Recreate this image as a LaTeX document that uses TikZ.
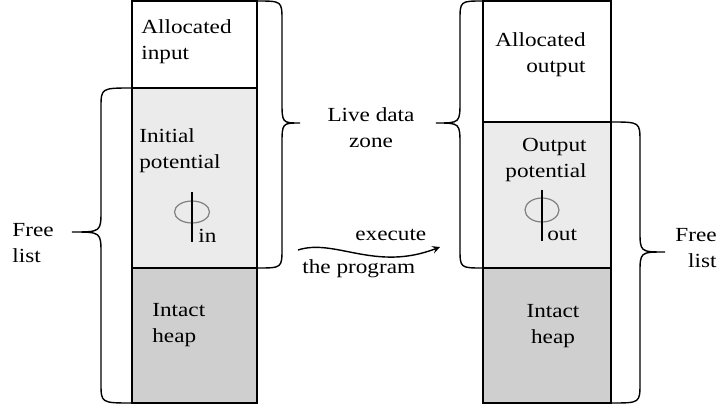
\documentclass[tikz,border=0pt]{standalone}
\usepackage{fontspec}
\setmainfont[FakeStretch=1.16]{Liberation Serif}
\usetikzlibrary{arrows, fit, positioning}
\tikzset{
	cell/.style={draw=black, line width=0.7pt, inner sep=0pt, fill=white},
	potcell/.style={cell, fill=black!8},
	heapcell/.style={cell, fill=black!19},
	label/.style={inner sep=0pt, font=\fontsize{10pt}{13pt}\selectfont},
	brace/.style={line width=0.7pt},
	phiring/.style={draw=black!50, line width=0.6pt},
	arrow/.style={line width=0.7pt,->,>=stealth}
}
% curly brace: open end x, top y, bottom y, spine x, tip x, tip y
\newcommand{\curly}[6]{%
	\draw[brace] (#1,#2) .. controls (#4,#2) .. (#4,{#2+20}) -- (#4,{#6-22})
		.. controls (#4,#6) .. (#5,#6) .. controls (#4,#6) .. (#4,{#6+22})
		-- (#4,{#3-20}) .. controls (#4,#3) .. (#1,#3);}
\begin{document}
\begin{tikzpicture}[x=0.5pt, y=-0.5pt]
		\useasboundingbox (0,0) rectangle (720,408);
		
		% Memory before the run
		\node (inA) [cell, fit={(132,1) (257,88)}] {};
		\node (inP) [potcell, fit={(132,88) (257,268)}] {};
		\node (inH) [heapcell, fit={(132,268) (257,403)}] {};
		
		% Memory after the run
		\node (outA) [cell, fit={(483,1) (611,122)}] {};
		\node (outP) [potcell, fit={(483,122) (611,268)}] {};
		\node (outH) [heapcell, fit={(483,268) (611,403)}] {};
		
		% Texts in the cells (base = last line)
		\node (allocIn) [label, anchor=base west, align=left] at (141,59) {Allocated\\input};
		\node (initPot) [label, anchor=base west, align=left] at (139,168) {Initial\\potential};
		\node (heapIn) [label, anchor=base west, align=left] at (152,342) {Intact\\heap};
		\node (allocOut) [label, anchor=base east, align=right] at (586,72) {Allocated\\output};
		\node (outPot) [label, anchor=base east, align=right] at (587,177) {Output\\potential};
		\node (heapOut) [label, anchor=base, align=center] at (553,343) {Intact\\heap};
		
		% Potential symbols
		\draw[phiring] (192,212) ellipse [x radius=17.5, y radius=11];
		\draw[line width=0.7pt] (192,192) -- (192,242);
		\node (inSub) [label, anchor=base west] at (198,242) {in};
		\draw[phiring] (542,210) ellipse [x radius=17, y radius=12];
		\draw[line width=0.7pt] (542,190) -- (542,241);
		\node (outSub) [label, anchor=base west] at (547,240) {out};
		
		% Braces
		\curly{132}{88}{403}{101}{72}{232}
		\curly{257}{1}{268}{282}{300}{123}
		\curly{483}{1}{268}{460}{436}{123}
		\curly{611}{122}{403}{640}{665}{252}
		
		% Brace texts
		\node (freeL) [label, anchor=base west, align=left] at (12,262) {Free\\list};
		\node (live) [label, anchor=base, align=center] at (371,147) {Live data\\zone};
		\node (freeR) [label, anchor=base east, align=right] at (717,267) {Free\\list};
		
		% Running the program
		\coordinate (runA) at (298,250);
		\coordinate (runB) at (440,247);
		\draw [arrow] (runA) .. controls (335,238) and (375,272) .. (runB);
		\node (exec) [label, anchor=base west] at (355,240) {execute};
		\node (prog) [label, anchor=base west] at (302,273) {the program};
		
	\end{tikzpicture}
\end{document}
